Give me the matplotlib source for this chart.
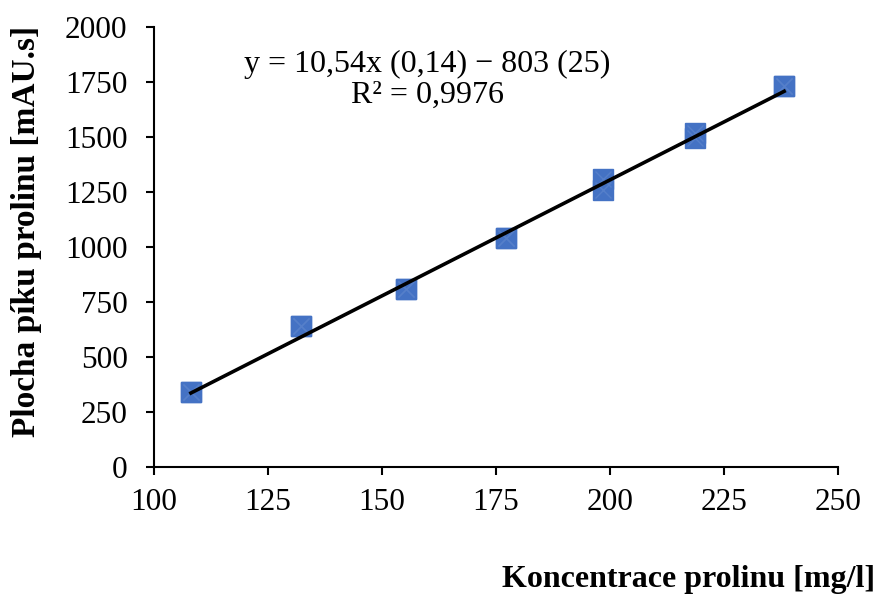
import numpy as np
import matplotlib
matplotlib.use("Agg")
import matplotlib.pyplot as plt

plt.rcParams['font.family'] = ['Liberation Serif', 'DejaVu Serif']

# concentration [mg/l] and peak area [mAU.s], repeated injections
konc = [108.1, 108.1, 132.3, 132.3, 155.3, 155.3, 177.2, 177.2,
        198.5, 198.5, 218.6, 218.6, 238.2, 238.2]
plocha = [341, 341, 639, 639, 809, 809, 1041, 1041,
          1311, 1257, 1518, 1495, 1732, 1732]

slope = 10.54
intercept = -803
rovnice = "y = 10,54x (0,14) − 803 (25)\nR² = 0,9976"

xticks = [100, 125, 150, 175, 200, 225, 250]
yticks = [0, 250, 500, 750, 1000, 1250, 1500, 1750, 2000]

fig = plt.figure(figsize=(8.78, 5.96), dpi=100)
ax = fig.add_axes([0.1754, 0.2164, 0.9544 - 0.1754, 0.9547 - 0.2164])

ax.plot(konc, plocha, linestyle='none', marker='s', markersize=15,
        color='#4472C4', markeredgecolor='#4472C4', zorder=3)
ax.plot(konc, plocha, linestyle='none', marker='x', markersize=12,
        markeredgewidth=1.0, color='#557fca', zorder=3)

xfit = np.array([min(konc), max(konc)])
ax.plot(xfit, slope * xfit + intercept, color='black', lw=2.6, zorder=4)

ax.set_xlim(100, 250)
ax.set_ylim(0, 2000)
ax.set_xticks(xticks)
ax.set_yticks(yticks)
ax.tick_params(labelsize=22.5, length=6, width=1.5, direction='out')
ax.tick_params(axis='x', pad=9)
ax.tick_params(axis='y', pad=13)
for s in ['top', 'right']:
    ax.spines[s].set_visible(False)
for s in ['left', 'bottom']:
    ax.spines[s].set_linewidth(1.5)

ax.text(0.40, 0.88, rovnice, transform=ax.transAxes, ha='center',
        va='center', fontsize=23, linespacing=1.1)

fig.text(0.997, 0.027, "Koncentrace prolinu [mg/l]", ha='right', va='center',
         fontsize=23, fontweight='bold')
fig.text(0.030, 0.612, "Plocha píku prolinu [mAU.s]", ha='center', va='center',
         rotation=90, fontsize=24, fontweight='bold')

fig.savefig("out.png", dpi=100)
